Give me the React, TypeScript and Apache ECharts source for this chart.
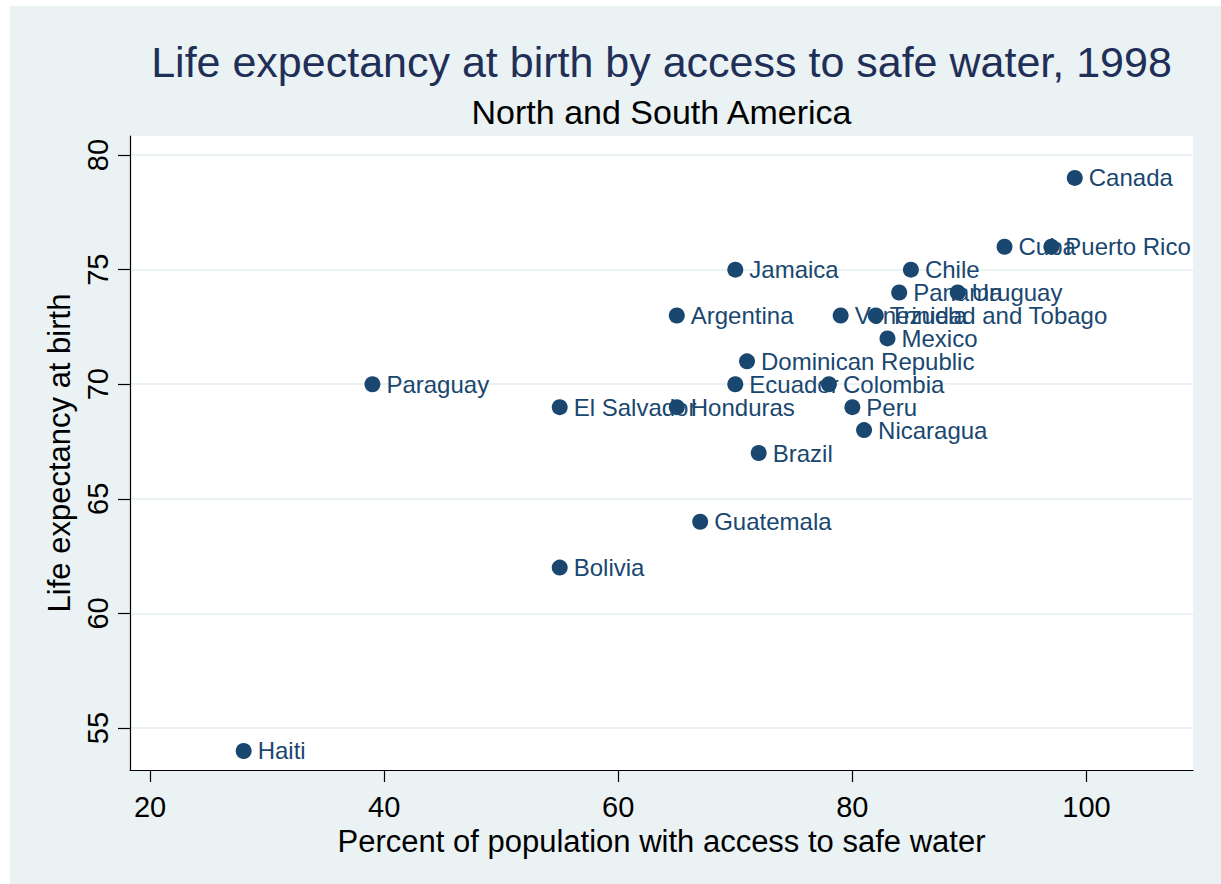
import React, { useEffect, useRef } from "react";
import * as echarts from "echarts";

const countries = [
  "Haiti", "Paraguay", "El Salvador", "Bolivia", "Honduras", "Argentina",
  "Guatemala", "Jamaica", "Ecuador", "Dominican Republic", "Brazil",
  "Colombia", "Venezuela", "Peru", "Nicaragua", "Trinidad and Tobago",
  "Mexico", "Panama", "Chile", "Uruguay", "Cuba", "Puerto Rico", "Canada",
];
const safeWater = [28, 39, 55, 55, 65, 65, 67, 70, 70, 71, 72, 78, 79, 80, 81, 82, 83, 84, 85, 89, 93, 97, 99];
const lifeExp = [54, 70, 69, 62, 69, 73, 64, 75, 70, 71, 67, 70, 73, 69, 68, 73, 72, 74, 75, 74, 76, 76, 79];
const xTicks = [20, 40, 60, 80, 100];
const yTicks = [55, 60, 65, 70, 75, 80];

const FONT = "'Liberation Sans', Arial, Helvetica, sans-serif";
const NAVY = "#1a476f";

export default function App() {
  const ref = useRef<HTMLDivElement>(null);
  useEffect(() => {
    if (!ref.current) return;
    const chart = echarts.init(ref.current, undefined, { renderer: "svg" });
    const data = countries.map((c, i) => ({ name: c, value: [safeWater[i], lifeExp[i]] }));
    chart.setOption({
      animation: false,
      backgroundColor: "#ffffff",
      textStyle: { fontFamily: FONT },
      graphic: [
        {
          type: "rect",
          z: -10,
          shape: { x: 10, y: 6, width: 1211, height: 878 },
          style: { fill: "#EAF2F3" },
        },
        {
          type: "text",
          x: 661.5,
          y: 62,
          style: {
            text: "Life expectancy at birth by access to safe water, 1998",
            align: "center",
            verticalAlign: "middle",
            fontSize: 43,
            fontFamily: FONT,
            fill: "#1f2f58",
          },
        },
        {
          type: "text",
          x: 661.5,
          y: 112,
          style: {
            text: "North and South America",
            align: "center",
            verticalAlign: "middle",
            fontSize: 34,
            fontFamily: FONT,
            fill: "#000000",
          },
        },
      ],
      grid: {
        left: 130,
        top: 136,
        right: 28,
        bottom: 114,
        show: true,
        backgroundColor: "#ffffff",
        borderWidth: 0,
      },
      xAxis: {
        type: "value",
        min: 18.29,
        max: 109.1,
        name: "Percent of population with access to safe water",
        nameLocation: "middle",
        nameGap: 51,
        nameTextStyle: { fontSize: 31, color: "#000", fontFamily: FONT },
        axisLine: { show: true, onZero: false, lineStyle: { color: "#000", width: 1.2 } },
        axisTick: { show: true, length: 12, inside: false, customValues: xTicks, lineStyle: { color: "#000", width: 1.2 } },
        axisLabel: { customValues: xTicks, fontSize: 29, color: "#000", margin: 22, fontFamily: FONT },
        splitLine: { show: false },
      },
      yAxis: {
        type: "value",
        min: 53.17,
        max: 80.83,
        name: "Life expectancy at birth",
        nameLocation: "middle",
        nameRotate: 90,
        nameGap: 52,
        nameTextStyle: { fontSize: 31, color: "#000", fontFamily: FONT },
        axisLine: { show: true, onZero: false, lineStyle: { color: "#000", width: 1.2 } },
        axisTick: { show: true, length: 12, inside: false, customValues: yTicks, lineStyle: { color: "#000", width: 1.2 } },
        axisLabel: {
          customValues: yTicks,
          rotate: 90,
          align: "center",
          verticalAlign: "bottom",
          fontSize: 29,
          color: "#000",
          margin: 18,
          fontFamily: FONT,
        },
        splitLine: { show: true, lineStyle: { color: "#EAF2F3", width: 2 } },
      },
      series: [
        {
          type: "scatter",
          data,
          symbol: "circle",
          symbolSize: 16,
          itemStyle: { color: NAVY, opacity: 1 },
          label: {
            show: true,
            position: "right",
            distance: 6,
            formatter: (p: any) => p.name,
            color: NAVY,
            fontSize: 24,
            fontFamily: FONT,
          },
          labelLayout: { hideOverlap: false },
        },
      ],
    });
    return () => chart.dispose();
  }, []);
  return (
    <div
      ref={ref}
      style={{ position: "fixed", left: 0, top: 0, width: 1221, height: 884 }}
    />
  );
}
